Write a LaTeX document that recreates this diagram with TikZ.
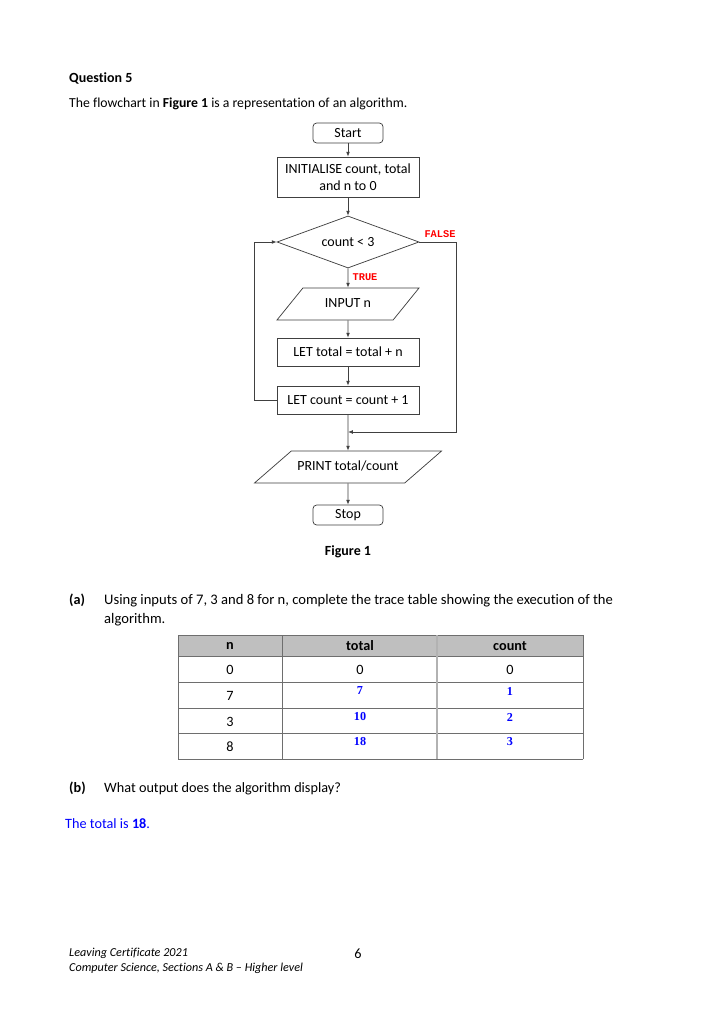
\documentclass[tikz,border=0pt]{standalone}
\usepackage{fontspec}
\setmainfont{Carlito}[Ligatures=NoCommon]
\newfontfamily\answerfont{Liberation Serif}
\newfontfamily\branchfont{Liberation Mono}
\usetikzlibrary{arrows.meta,positioning,calc,shapes.geometric}
\definecolor{flowdark}{RGB}{64,64,64}
\definecolor{tablegray}{RGB}{191,191,191}
\definecolor{tableline}{RGB}{110,110,110}
\definecolor{answerblue}{RGB}{0,0,255}
\definecolor{branchred}{RGB}{255,0,0}
\tikzset{
  flow box/.style={
    draw=flowdark,
    line width=0.6pt,
    inner sep=2pt,
    align=center,
    font=\fontsize{11.5pt}{14pt}\selectfont,
  },
  flow term/.style={flow box, rounded corners=3pt, minimum width=57.6pt, minimum height=16.4pt},
  flow step/.style={flow box, minimum width=116.8pt},
  flow test/.style={flow box, diamond, aspect=2.7, inner sep=0pt,
    minimum width=116.8pt, minimum height=42.8pt},
  flow io/.style={flow box, trapezium, trapezium stretches body,
    text height=8pt, text depth=2.5pt, inner ysep=7.9pt},
  flow arrow/.style={
    -{Latex[length=1.4mm,width=1.1mm]},
    line width=0.6pt,
    draw=flowdark,
  },
  branch label/.style={font=\branchfont\bfseries\fontsize{8.5pt}{10pt}\selectfont,
    text=branchred, inner sep=0pt},
  body text/.style={font=\fontsize{11.7pt}{15.5pt}\selectfont, anchor=base west, inner sep=0pt},
  foot text/.style={font=\fontsize{10pt}{12.4pt}\selectfont\itshape, anchor=base west, inner sep=0pt},
  cell text/.style={font=\fontsize{11.7pt}{14pt}\selectfont, inner sep=0pt},
  answer text/.style={font=\answerfont\bfseries\fontsize{10pt}{12pt}\selectfont,
    text=answerblue, inner sep=0pt},
}

\begin{document}
\begin{tikzpicture}[x=0.8224pt,y=-0.8224pt]
  \useasboundingbox[fill=white] (0,0) rectangle (724,1024);

  % question text
  \node[body text, font=\fontsize{11.5pt}{14pt}\selectfont\bfseries] (qtitle) at (69,83) {Question 5};
  \node[body text, font=\fontsize{11.3pt}{14pt}\selectfont] (qintro) at (69,108) {The flowchart in \textbf{Figure 1} is a representation of an algorithm.};

  % flowchart
  \node[flow term] (start) at (348,133) {Start};
  \node[flow step, minimum height=32.9pt] (init) at (348,177) {INITIALISE count, total\\and n to 0};
  \node[flow test] (test) at (348,242) {count < 3};
  \node[flow io, trapezium left angle=51, trapezium right angle=129, minimum width=116.8pt] (input) at (348,304) {INPUT n};
  \node[flow step, minimum height=23pt] (addtot) at (348,352) {LET total = total + n};
  \node[flow step, minimum height=23pt] (addcnt) at (348,400) {LET count = count + 1};
  \node[flow io, trapezium left angle=41, trapezium right angle=139, minimum width=153.8pt] (print) at (348,467) {PRINT total/count};
  \node[flow term] (stop) at (348,515) {Stop};
  \coordinate (join) at (348,432);

  \node[branch label] (truelbl) at (365,277) {TRUE};
  \node[branch label] (falselbl) at (440,234) {FALSE};

  \draw[flow arrow] (start) -- (init);
  \draw[flow arrow] (init) -- (test);
  \draw[flow arrow] (test) -- (input);
  \draw[flow arrow] (input) -- (addtot);
  \draw[flow arrow] (addtot) -- (addcnt);
  \draw[flow arrow] (addcnt) -- (print);
  \draw[flow arrow] (print) -- (stop);
  \draw[flow arrow] (addcnt.west) -- ++(-22,0) |- (test.west);
  \draw[flow arrow] (test.east) -- ++(37,0) |- (join);

  \node[body text, font=\fontsize{11.5pt}{14pt}\selectfont\bfseries, anchor=base] (figcap) at (348,555) {Figure 1};

  % part (a)
  \node[body text, font=\fontsize{11.7pt}{14pt}\selectfont\bfseries] (parta) at (69,604) {(a)};
  \node[body text, font=\fontsize{12pt}{15.5pt}\selectfont, align=left, anchor=north west] (partatext) at (104,594)
    {Using inputs of 7, 3 and 8 for n, complete the trace table showing the execution of the\\algorithm.};

  % trace table
  \fill[tablegray] (178,635) rectangle (583,656);
  \foreach \y in {635,656,682,708,733,759}
    \draw[tableline, line width=0.7pt] (178,\y) -- (583,\y);
  \foreach \x in {178,282,583}
    \draw[tableline, line width=0.7pt] (\x,635) -- (\x,759);
  \draw[tablegray!80!gray, line width=1.2pt] (437,635) -- (437,759);

  \node[cell text, font=\fontsize{11.7pt}{14pt}\selectfont\bfseries] (hn) at (230,646) {n};
  \node[cell text, font=\fontsize{11.7pt}{14pt}\selectfont\bfseries] (htotal) at (360,646) {total};
  \node[cell text, font=\fontsize{11.7pt}{14pt}\selectfont\bfseries] (hcount) at (510,646) {count};
  \node[cell text] (n0) at (230,670) {0};
  \node[cell text] (t0) at (360,670) {0};
  \node[cell text] (c0) at (510,670) {0};
  \node[cell text] (n1) at (230,696) {7};
  \node[cell text] (n2) at (230,722) {3};
  \node[cell text] (n3) at (230,747) {8};
  \node[answer text] (t1) at (360,691) {7};
  \node[answer text] (c1) at (510,691) {1};
  \node[answer text] (t2) at (360,717) {10};
  \node[answer text] (c2) at (510,717) {2};
  \node[answer text] (t3) at (360,742) {18};
  \node[answer text] (c3) at (510,742) {3};

  % part (b)
  \node[body text, font=\fontsize{11.7pt}{14pt}\selectfont\bfseries] (partb) at (69,792) {(b)};
  \node[body text] (partbtext) at (104,792) {What output does the algorithm display?};
  \node[body text, text=answerblue] (answer) at (65,828) {The total is \textbf{18}.};

  % footer
  \node[foot text, align=left, anchor=north west] (footer) at (69,948)
    {Leaving Certificate 2021\\Computer Science, Sections A \& B -- Higher level};
  \node[body text, anchor=base] (pagenum) at (358,958) {6};
\end{tikzpicture}
\end{document}
